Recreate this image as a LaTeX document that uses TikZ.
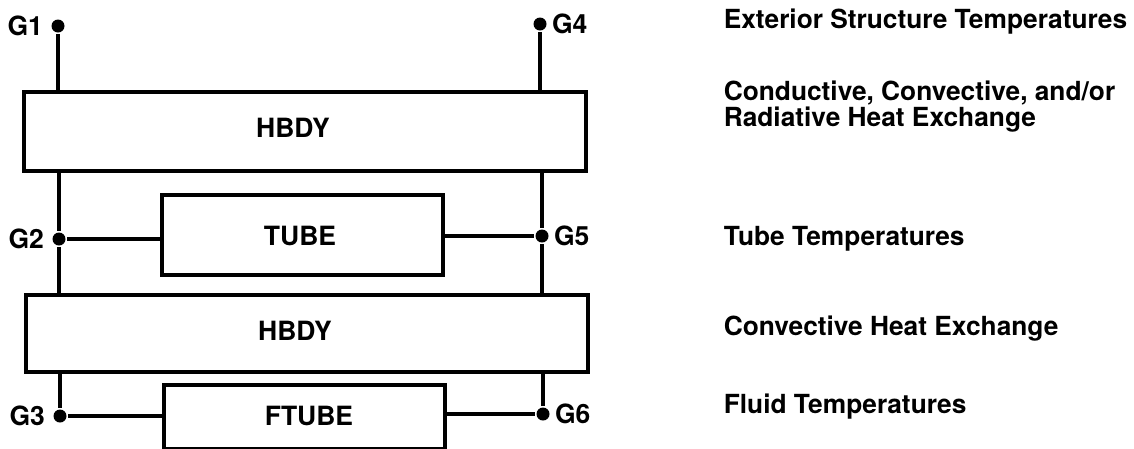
\documentclass[tikz,border=0pt]{standalone}
\usepackage{fontspec}
\setsansfont{TeX Gyre Heros}
\usepackage{tikz}
\usetikzlibrary{positioning}

\begin{document}
\begin{tikzpicture}[
  x=1pt, y=-1pt,
  line width=3.6pt,
  every node/.style={font=\sffamily\bfseries\fontsize{26.5}{30}\selectfont},
  elem/.style={rectangle, draw, line width=3.6pt, anchor=north west, inner sep=0pt},
  grid/.style={circle, fill, inner sep=0pt, minimum size=13pt},
  glbl/.style={inner sep=2pt},
  note/.style={anchor=base west, inner sep=0pt,
    font=\sffamily\bfseries\fontsize{26.3}{26}\selectfont},
]
\useasboundingbox (0,0) rectangle (1134,448);

% === Elements ===
\node[elem, minimum width=562pt, minimum height=79pt] (hbdytop) at (22,90) {};
\node at (293,128) {HBDY};
\node[elem, minimum width=281pt, minimum height=80pt] (tube) at (160,193) {};
\node at (300,236) {TUBE};
\node[elem, minimum width=562pt, minimum height=77pt] (hbdybot) at (24,293) {};
\node at (295,331) {HBDY};
\node[elem, minimum width=281pt, minimum height=64pt] (ftube) at (162,383) {};
\node at (309,416) {FTUBE};

% === Grid points ===
\node[grid] (g1) at (58,26) {};
\node[grid] (g4) at (540,24) {};
\node[grid] (g2) at (59,239) {};
\node[grid] (g5) at (542,236) {};
\node[grid] (g3) at (60,416) {};
\node[grid] (g6) at (543,414) {};

\node[glbl, left=3pt of g1] {G1};
\node[glbl, right=0pt of g4] {G4};
\node[glbl, left=3pt of g2] {G2};
\node[glbl, right=0pt of g5] {G5};
\node[glbl, left=3pt of g3] {G3};
\node[glbl, right=0pt of g6] {G6};

% === Connections ===
\draw (g1) -- (g1 |- hbdytop.north);
\draw (g4) -- (g4 |- hbdytop.north);
\draw (g2 |- hbdytop.south) -- (g2) -- (g2 |- hbdybot.north);
\draw (g5 |- hbdytop.south) -- (g5) -- (g5 |- hbdybot.north);
\draw (g2) -- (g2 -| tube.west);
\draw (g5) -- (g5 -| tube.east);
\draw (g3 |- hbdybot.south) -- (g3);
\draw (g6 |- hbdybot.south) -- (g6);
\draw (g3) -- (g3 -| ftube.west);
\draw (g6) -- (g6 -| ftube.east);

% === Descriptions ===
\node[note] (ext) at (722,28) {Exterior Structure Temperatures};
\node[note] (cond) at (722,100) {Conductive, Convective, and/or};
\node[note] (rad) at (722,126) {Radiative Heat Exchange};
\node[note] (tubet) at (722,245) {Tube Temperatures};
\node[note] (conv) at (722,335) {Convective Heat Exchange};
\node[note] (fluid) at (722,413) {Fluid Temperatures};

\end{tikzpicture}
\end{document}
